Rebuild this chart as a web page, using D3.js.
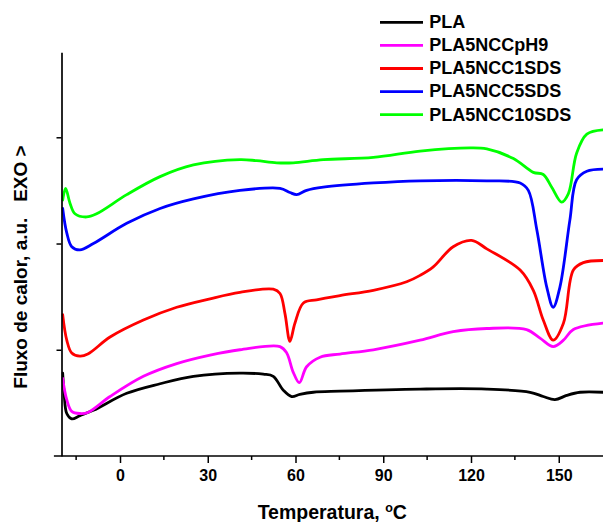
<!DOCTYPE html>
<html>
<head>
<meta charset="utf-8">
<script src="https://cdn.jsdelivr.net/npm/d3@7"></script>
<style>
  html, body { margin: 0; padding: 0; background: #fff; }
  svg { display: block; font-family: "Liberation Sans", Arial, sans-serif; font-weight: bold; }
</style>
</head>
<body>
<svg id="chart" width="603" height="522"></svg>
<script>
// DSC curves: temperature (°C) and heat flow (a.u., curves stacked)
const seriesNames = ["PLA", "PLA5NCCpH9", "PLA5NCC1SDS", "PLA5NCC5SDS", "PLA5NCC10SDS"];
const seriesColors = ["#000000", "#ff00ff", "#ff0000", "#0000ff", "#00ff00"];

const tPLA = [-19.6, -19.1, -18.2, -16.5, -13.7, -9.1, 2.3, 13.7, 25.1, 41.0, 49.0, 52.4, 55.8, 58.7, 61.5, 66.1, 75.2, 102.6, 125.4, 140.2, 144.7, 148.7, 152.7, 157.3, 165.1];
const vPLA = [0.78, 0.59, 0.40, 0.35, 0.38, 0.43, 0.59, 0.68, 0.75, 0.78, 0.77, 0.75, 0.62, 0.56, 0.58, 0.60, 0.61, 0.63, 0.63, 0.60, 0.56, 0.53, 0.57, 0.60, 0.60];

const tPH9 = [-19.6, -18.2, -16.5, -13.7, -11.0, -3.4, 8.0, 19.4, 30.8, 41.0, 54.7, 57.0, 59.2, 61.3, 63.8, 68.4, 75.2, 86.6, 102.6, 113.9, 125.4, 139.0, 143.6, 148.1, 151.6, 155.0, 165.1];
const vPH9 = [0.73, 0.53, 0.42, 0.40, 0.41, 0.56, 0.75, 0.87, 0.95, 1.00, 1.03, 0.97, 0.79, 0.69, 0.84, 0.93, 0.96, 1.00, 1.09, 1.17, 1.20, 1.19, 1.11, 1.03, 1.09, 1.19, 1.25];

const t1SDS = [-19.6, -18.2, -16.5, -13.7, -11.0, -3.4, 8.0, 19.4, 30.8, 41.0, 52.4, 54.7, 56.4, 58.1, 59.8, 62.7, 67.2, 75.2, 86.6, 98.0, 102.6, 107.1, 113.9, 120.2, 125.4, 136.8, 141.3, 144.7, 148.1, 151.6, 155.0, 158.4, 165.1];
const v1SDS = [1.33, 1.09, 0.97, 0.94, 0.96, 1.12, 1.28, 1.40, 1.48, 1.54, 1.57, 1.53, 1.34, 1.08, 1.25, 1.44, 1.47, 1.51, 1.56, 1.64, 1.70, 1.78, 1.97, 2.03, 1.95, 1.75, 1.56, 1.28, 1.09, 1.25, 1.75, 1.82, 1.84];

const t5SDS = [-19.6, -18.2, -16.5, -13.7, -9.1, 2.3, 13.7, 25.1, 41.0, 54.7, 58.1, 60.4, 63.8, 69.5, 86.6, 102.6, 125.4, 136.8, 139.6, 142.5, 145.9, 148.1, 150.4, 153.8, 156.1, 159.6, 165.1];
const v5SDS = [2.33, 2.10, 1.97, 1.94, 2.00, 2.19, 2.33, 2.42, 2.50, 2.52, 2.48, 2.46, 2.50, 2.53, 2.57, 2.59, 2.59, 2.57, 2.50, 2.13, 1.59, 1.40, 1.59, 2.22, 2.60, 2.68, 2.70];

const t10SDS = [-19.6, -18.6, -17.1, -15.4, -11.4, -8.0, 2.3, 13.7, 25.1, 41.0, 46.7, 53.6, 59.2, 69.5, 86.6, 102.6, 119.7, 125.4, 134.5, 141.3, 144.7, 147.6, 151.0, 153.3, 156.1, 159.6, 165.1];
const v10SDS = [2.41, 2.52, 2.38, 2.28, 2.25, 2.28, 2.46, 2.63, 2.74, 2.79, 2.78, 2.76, 2.76, 2.79, 2.81, 2.87, 2.90, 2.89, 2.80, 2.67, 2.65, 2.53, 2.39, 2.47, 2.85, 3.03, 3.07];

const xMajorTicks = [0, 30, 60, 90, 120, 150];
const xMinorTicks = [-15, 15, 45, 75, 105, 135];
const yTicks = [1, 2, 3];

const xLabel = "Temperatura, ";
const yLabel = "Fluxo de calor, a.u.   EXO >";

const temps = [tPLA, tPH9, t1SDS, t5SDS, t10SDS];
const flows = [vPLA, vPH9, v1SDS, v5SDS, v10SDS];
const series = seriesNames.map((name, i) => ({
  name, color: seriesColors[i],
  points: temps[i].map((t, j) => ({ t, v: flows[i][j] }))
}));

const svg = d3.select("#chart");
const margin = { left: 61.5, top: 52.3, bottom: 456 };

const x = d3.scaleLinear().domain([-20, 166]).range([margin.left, margin.left + 186 * 2.925]);
const y = d3.scaleLinear().domain([0, 3.8]).range([margin.bottom, margin.top]);

// curves
svg.append("clipPath").attr("id", "plot-clip")
  .append("rect").attr("x", x(-20)).attr("y", 0).attr("width", 603 - x(-20)).attr("height", margin.bottom);

const line = d3.line().x(d => x(d.t)).y(d => y(d.v)).curve(d3.curveCatmullRom.alpha(0.5));
svg.append("g").attr("clip-path", "url(#plot-clip)")
  .selectAll("path").data(series).join("path")
  .attr("d", d => line(d.points))
  .attr("fill", "none")
  .attr("stroke", d => d.color)
  .attr("stroke-width", 2.8)
  .attr("stroke-linejoin", "round")
  .attr("stroke-linecap", "round");

// x axis: major ticks with labels, minor ticks without
const xAxisG = svg.append("g").attr("transform", `translate(0,${margin.bottom})`);
xAxisG.call(d3.axisBottom(x).tickValues(xMajorTicks).tickSize(7).tickSizeOuter(0).tickPadding(6.6).tickFormat(d3.format("d")));
xAxisG.select(".domain").remove();
xAxisG.append("line")
  .attr("x1", x(-22.6)).attr("x2", 603).attr("y1", 0).attr("y2", 0)
  .attr("stroke", "#000").attr("stroke-width", 1.7);
xAxisG.selectAll(".minor").data(xMinorTicks).join("line")
  .attr("class", "minor")
  .attr("x1", d => x(d)).attr("x2", d => x(d)).attr("y1", 0).attr("y2", 4)
  .attr("stroke", "#000").attr("stroke-width", 1.5);
xAxisG.selectAll(".tick line").attr("stroke-width", 1.5);
xAxisG.selectAll(".tick text")
  .attr("font-family", "'Liberation Sans', Arial, sans-serif")
  .attr("font-weight", "bold").attr("font-size", 16).attr("fill", "#000");

// y axis: unlabeled ticks
const yAxisG = svg.append("g").attr("transform", `translate(${x(-20)},0)`);
yAxisG.call(d3.axisLeft(y).tickValues(yTicks).tickSize(5).tickSizeOuter(0).tickFormat(""));
yAxisG.select(".domain").attr("stroke-width", 1.7);
yAxisG.selectAll(".tick line").attr("stroke-width", 1.5);

// axis titles
const xt = svg.append("text")
  .attr("x", (x(-20) + 603) / 2).attr("y", 519)
  .attr("text-anchor", "middle").attr("font-size", 19.5).attr("fill", "#000");
xt.append("tspan").text(xLabel);
xt.append("tspan").attr("font-size", 12.5).attr("dy", -7.5).text("o");
xt.append("tspan").attr("dy", 7.5).text("C");

svg.append("text")
  .attr("transform", `translate(27,267) rotate(-90)`)
  .attr("text-anchor", "middle").attr("font-size", 19).attr("fill", "#000")
  .style("white-space", "pre")
  .text(yLabel);

// legend
const legend = svg.append("g").attr("transform", "translate(380,22.3)");
const items = legend.selectAll("g").data(series).join("g")
  .attr("transform", (d, i) => `translate(0,${i * 23.1})`);
items.append("line").attr("x1", 0).attr("x2", 43).attr("y1", 0).attr("y2", 0)
  .attr("stroke", d => d.color).attr("stroke-width", 2.8);
items.append("text").attr("x", 49.3).attr("y", 5.8)
  .attr("font-size", 18).attr("fill", "#000")
  .text(d => d.name);
</script>
</body>
</html>
